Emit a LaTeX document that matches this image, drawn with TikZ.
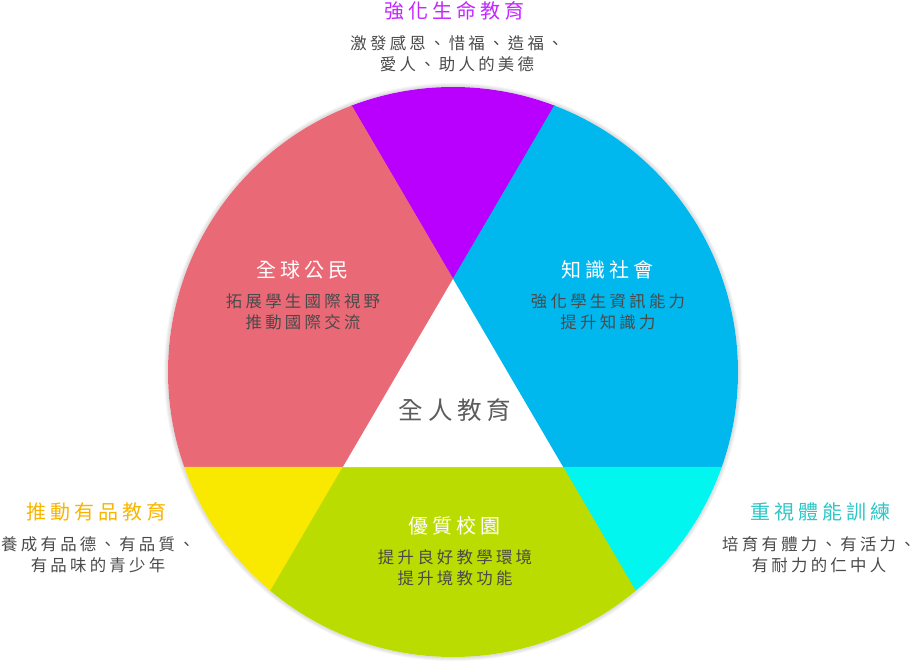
\documentclass[tikz,border=0pt]{standalone}
\usepackage{fontspec}
\usetikzlibrary{calc}
\newfontfamily\cjk[LetterSpace=20]{Noto Sans CJK TC}
\definecolor{lifepurple}{HTML}{B900FF}
\definecolor{globalred}{HTML}{EA6976}
\definecolor{knowblue}{HTML}{00B7EE}
\definecolor{moralyellow}{HTML}{F9E800}
\definecolor{fitcyan}{HTML}{00F6EF}
\definecolor{campusgreen}{HTML}{BBDC00}
\definecolor{moralorange}{HTML}{F8B500}
\definecolor{fitteal}{HTML}{2EC6C6}
\definecolor{textgray}{HTML}{4A4A4A}
\tikzset{
  region/.style={fill=#1, draw=#1, line width=0.4pt},
  heading/.style={font=\cjk\fontsize{20}{22}\selectfont, inner sep=0pt},
  bodytext/.style={font=\cjk\fontsize{16.4}{21}\selectfont, text=textgray, align=center, inner sep=0pt},
  centretext/.style={font=\cjk\fontsize{24.5}{28}\selectfont, text=textgray!90, inner sep=0pt},
}
\begin{document}
\begin{tikzpicture}[x=1pt,y=-1pt]
  \useasboundingbox (0,0) rectangle (916,670);
  \coordinate (O) at (453,372);
  \coordinate (A) at (453,279);
  \coordinate (B) at (343,467);
  \coordinate (C) at (563,467);
  \coordinate (ul) at ($(A)!-2!(C)$);
  \coordinate (ur) at ($(A)!-2!(B)$);
  \coordinate (dl) at ($(A)!2.3!(B)$);
  \coordinate (dr) at ($(A)!2.3!(C)$);
  % soft edge round the wheel
  \foreach \r in {286,287,288,289}
    \fill[black, opacity=0.035] (O) circle (\r pt);
  \fill[white] (O) circle (285pt);
  \begin{scope}
    \clip (O) circle (285pt);
    \fill[region=lifepurple] (A) -- (ul) -- (ur) -- cycle;
    \fill[region=globalred] (A) -- (ul) -- (100,-97) -- (100,467) -- (B) -- cycle;
    \fill[region=knowblue] (A) -- (ur) -- (806,-97) -- (806,467) -- (C) -- cycle;
    \fill[region=moralyellow] (B) -- (100,467) -- (100,711.4) -- (dl) -- cycle;
    \fill[region=fitcyan] (C) -- (806,467) -- (806,711.4) -- (dr) -- cycle;
    \fill[region=campusgreen] (B) -- (C) -- (dr) -- (dl) -- cycle;
    \fill[white] (A) -- (B) -- (C) -- cycle;
  \end{scope}

  \node[centretext] (whole) at (455,410) {全人教育};

  \node[heading, text=lifepurple!85!white] (lifeT) at (454,11) {強化生命教育};
  \node[bodytext] (lifeB) at (457,54) {激發感恩、惜福、造福、\\愛人、助人的美德};

  \node[heading, text=white] (globalT) at (302,270) {全球公民};
  \node[bodytext] (globalB) at (303,312) {拓展學生國際視野\\推動國際交流};

  \node[heading, text=white] (knowT) at (607,270) {知識社會};
  \node[bodytext] (knowB) at (608,312) {強化學生資訊能力\\提升知識力};

  \node[heading, text=white] (campusT) at (454,526) {優質校園};
  \node[bodytext] (campusB) at (455,568) {提升良好教學環境\\提升境教功能};

  \node[heading, text=moralorange] (moralT) at (97,512) {推動有品教育};
  \node[bodytext] (moralB) at (98,555) {養成有品德、有品質、\\有品味的青少年};

  \node[heading, text=fitteal] (fitT) at (820,512) {重視體能訓練};
  \node[bodytext] (fitB) at (819,555) {培育有體力、有活力、\\有耐力的仁中人};
\end{tikzpicture}
\end{document}
